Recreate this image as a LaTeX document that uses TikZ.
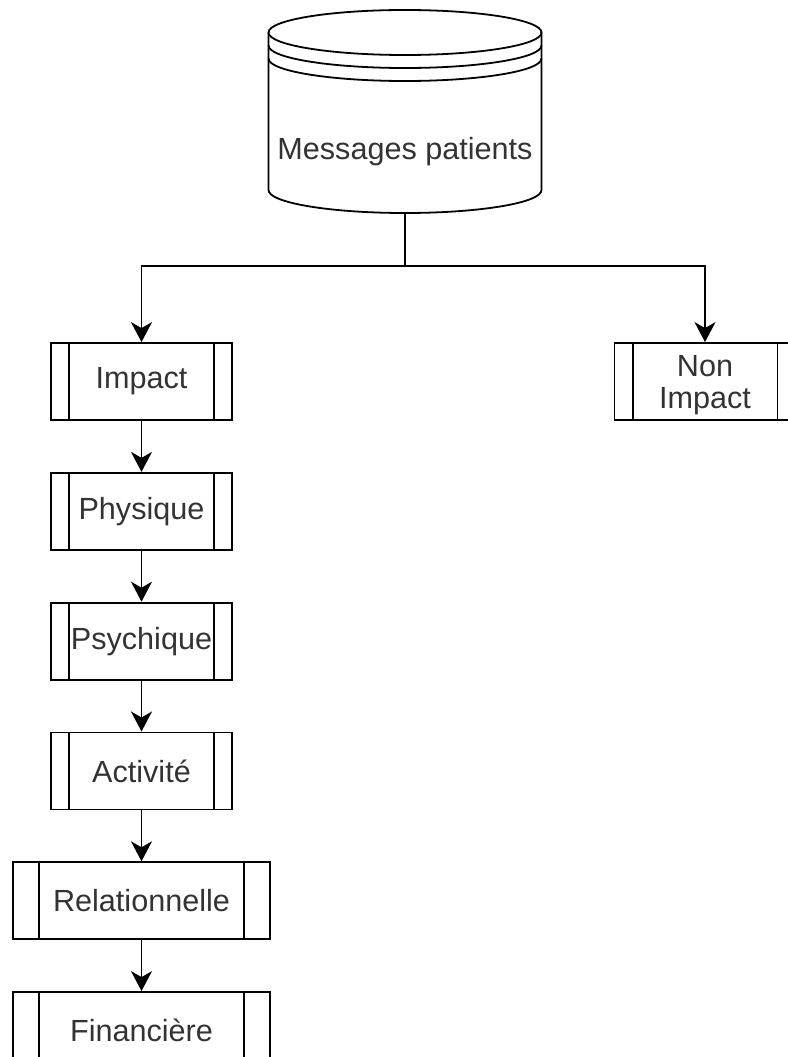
\documentclass[tikz,border=0pt]{standalone}
\usepackage{fontspec}
\setmainfont{Liberation Sans}
\usepackage{tikz}
\usetikzlibrary{arrows.meta, positioning, calc}
\definecolor{txtgray}{RGB}{51,51,51}

\begin{document}
\begin{tikzpicture}[x=1pt, y=1pt, line width=1.8pt,
    font=\fontsize{30.6}{32}\selectfont, node distance=51pt,
    procbox/.style={draw, minimum width=181pt, minimum height=77pt,
      inner sep=0pt, text=txtgray, align=center,
      path picture={
        \draw ($(path picture bounding box.north west)!0.1!(path picture bounding box.north east)$)
           -- ($(path picture bounding box.south west)!0.1!(path picture bounding box.south east)$);
        \draw ($(path picture bounding box.north east)!0.1!(path picture bounding box.north west)$)
           -- ($(path picture bounding box.south east)!0.1!(path picture bounding box.south west)$);
      }},
    widebox/.style={procbox, minimum width=257pt},
    flow/.style={-{Stealth[length=20pt, width=21pt, inset=6pt]}}]
  \useasboundingbox (0,0) rectangle (787,-1057);

  % data store
  \draw (268.5,-32.5) -- (268.5,-190)
    arc[start angle=180, end angle=360, x radius=136.5, y radius=23]
    -- (541.5,-32.5);
  \draw (405,-32.5) ellipse[x radius=136.5, y radius=22.5];
  \foreach \d in {13,26}
    \draw (268.5,-32.5-\d) arc[start angle=180, end angle=360, x radius=136.5, y radius=22.5];
  \node[text=txtgray] (msg) at (405,-152) {Messages patients};
  \coordinate (msgbot) at (405,-213);
  \coordinate (split) at (405,-266);

  \node[procbox] (impact) at (141.5,-381.5) {Impact};
  \node[procbox] (nonimpact) at (705,-381.5)
    {\raisebox{-5pt}[\height][\depth]{\begin{tabular}{@{}c@{}}Non\\Impact\end{tabular}}};
  \node[procbox, below=of impact] (physique) {Physique};
  \node[procbox, below=of physique] (psychique) {Psychique};
  \node[procbox, below=of psychique] (activite) {Activité};
  \node[widebox, below=of activite] (relation) {Relationnelle};
  \node[widebox, below=of relation] (financiere) {Financière};

  \draw[flow] (msgbot) -- (split) -| (impact.north);
  \draw[flow] (split) -| (nonimpact.north);
  \foreach \a/\b in {impact/physique, physique/psychique, psychique/activite,
                     activite/relation, relation/financiere}
    \draw[flow] (\a) -- (\b);
\end{tikzpicture}
\end{document}
